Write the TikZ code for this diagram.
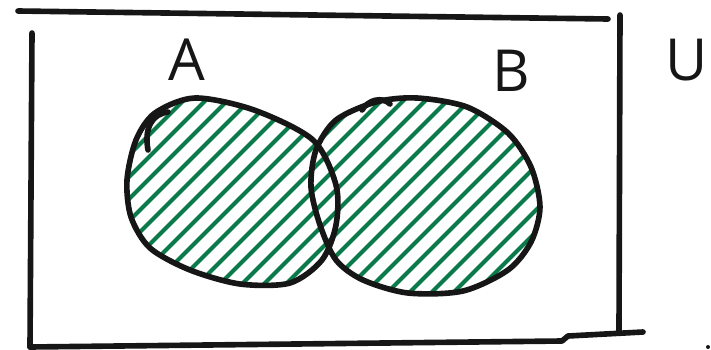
\documentclass[tikz,border=0pt]{standalone}
\usepackage{fontspec}
\setsansfont{Open Sans}
\definecolor{ink}{RGB}{22,22,22}
\definecolor{leaf}{RGB}{10,122,74}

\begin{document}
\begin{tikzpicture}[
    x=0.02cm, y=-0.02cm,
    outline/.style={draw=ink, line width=3.2pt, line cap=round, line join=round},
    hatch/.style={draw=leaf, line width=2.4pt, line cap=round},
    setlabel/.style={font=\sffamily\fontsize{33}{36}\selectfont, text=ink, inner sep=0pt},
]
\useasboundingbox (0,0) rectangle (711,349);

% Universe frame (hand drawn, not closed)
\coordinate (tl) at (18,11);
\coordinate (tr) at (608,19);
\coordinate (lt) at (32,33);
\coordinate (lb) at (30,347);
\coordinate (rt) at (620,15);
\coordinate (rb) at (619,332);
\coordinate (jog) at (562,341);
\coordinate (br) at (643,332);

\draw[outline] (tl) -- (tr);
\draw[outline] (lt) -- (lb);
\draw[outline] (rt) -- (rb);
\draw[outline] (lb) -- (jog) -- (568,336) -- (br);
\fill[ink] (708,347) circle (2);

% Labels
\node[setlabel] (lblA) at (187,60) {A};
\node[setlabel] (lblB) at (511,71) {B};
\node[setlabel] (lblU) at (687,60) {U};

% Union shaded
\begin{scope}
  \clip plot[smooth cycle] coordinates {(195,98) (254,110) (313,140) (336,185) (336,225) (322,260) (290,283) (240,284) (190,270) (150,248) (131,217) (127,180) (136,140) (155,113)}
        plot[smooth cycle] coordinates {(417,98) (467,107) (508,133) (531,167) (540,207) (531,242) (508,270) (463,291) (408,293) (363,280) (336,260) (320,225) (311,187) (316,150) (336,120) (376,102)};
  \foreach \c in {262,284,...,820}
    \draw[hatch] (\c-320,320) -- (\c+20,-20);
\end{scope}

% Sets A and B
\draw[outline] plot[smooth cycle] coordinates {(195,98) (254,110) (313,140) (336,185) (336,225) (322,260) (290,283) (240,284) (190,270) (150,248) (131,217) (127,180) (136,140) (155,113)};
\draw[outline] plot[smooth cycle] coordinates {(417,98) (467,107) (508,133) (531,167) (540,207) (531,242) (508,270) (463,291) (408,293) (363,280) (336,260) (320,225) (311,187) (316,150) (336,120) (376,102)};
\draw[outline] (148,150) .. controls (144,128) and (152,114) .. (168,112);
\draw[outline] (362,110) .. controls (368,100) and (382,96) .. (390,104);

\end{tikzpicture}
\end{document}
